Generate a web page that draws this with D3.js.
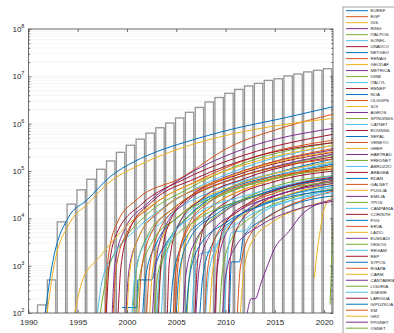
<!DOCTYPE html>
<html>
<head>
<meta charset="utf-8">
<script src="https://cdn.jsdelivr.net/npm/d3@7/dist/d3.min.js"></script>
<style>
html, body { margin: 0; padding: 0; background: #fff; }
svg { display: block; font-family: "Liberation Sans", Arial, sans-serif; }
</style>
</head>
<body>
<script>
// network names, in legend order
const networks = [
  "EUREF", "RGP", "IGS", "RING", "ITALPOS", "SONEL", "UNAVCO", "NETGEO", "RENAG",
  "GEODAF", "METRICA", "IGNE", "ITACYL", "RENEP", "NOA", "OLGGPS", "SOI", "AGROS",
  "SPINGNSS", "CATNET", "ROGNSS", "NEPAL", "VENETO", "GREF", "HARTRAD", "FREDNET",
  "ABRUZZO", "ARAGEA", "RDAN", "GALNET", "PUGLIA", "EMILIA", "TPOS", "CAMPANIA",
  "CORINTH", "FVG", "ERVA", "LAZIO", "EUSKADI", "VESOG", "REGAM", "REP", "STPOS",
  "RGAPA", "CARM", "CANTABRIA", "LIGURIA", "XGEWE", "LARIGUA", "GIPUZKOA", "KM",
  "GFZ", "PPGNET", "OSNET"
];

// cumulative curve of each network: [year, value]
const seriesPoints = [
  [[1991.7,100],[1992.4,1000],[1994,1e4],[1996,2.5e4],[1998.3,7.6e4],[2000.8,1.6e5],[2003.1,2.6e5],[2005.8,4e5],[2010.6,7.6e5],[2015.8,1.3e6],[2021,2.3e6]],
  [[1997.8,100],[1998.1,1500],[1999,8000],[2001,2.5e4],[2005.4,7e4],[2010.4,3.2e5],[2015.6,8e5],[2021,1.6e6]],
  [[1991.9,100],[1992.6,1000],[1994.2,8000],[1996,2e4],[1998.3,6e4],[2000.8,1.2e5],[2005.4,3e5],[2010.6,6e5],[2015.8,9.5e5],[2021,1.3e6]],
  [[1998.5,100],[1998.8,1200],[1999.8,6000],[2002,2e4],[2006,8e4],[2012,3e5],[2021,8e5]],
  [[1997.3,100],[1998,700],[1999.5,3000],[2002,1.2e4],[2006,4e4],[2012,1.5e5],[2021,4e5]],
  [[1997,100],[1997.5,500],[1998.5,1500],[2001,6000],[2005,2.5e4],[2012,1.2e5],[2021,3.5e5]],
  [[1997.9,100],[1998.2,1000],[1999,5000],[2001.5,2e4],[2006,7e4],[2012,2.2e5],[2021,6e5]],
  [[1999.5,130],[2001,130],[2001.1,500],[2002.5,500],[2003,1200],[2004,3000],[2006,1e4],[2010,4e4],[2015,9e4],[2021,1.8e5]],
  [[1998.6,100],[1998.9,900],[2000,5000],[2002.5,1.8e4],[2007,6e4],[2013,2e5],[2021,4.5e5]],
  [[1994.7,100],[1995.5,500],[1997.2,1500],[2000,7000],[2003.4,2.5e4],[2008,7e4],[2014,1.8e5],[2021,3.5e5]],
  [[1999.9,100],[2000.2,800],[2001.2,4000],[2003.5,1.5e4],[2008,5e4],[2014,1.4e5],[2021,2.8e5]],
  [[2000.6,100],[2000.9,700],[2002,4000],[2004.5,1.5e4],[2009,5e4],[2015,1.2e5],[2021,2.2e5]],
  [[2000.5,100],[2000.8,600],[2001.8,3000],[2004,1e4],[2009,4e4],[2015,9e4],[2021,1.6e5]],
  [[1999.1,100],[1999.4,1000],[2000.3,6000],[2002.5,2.2e4],[2007,7e4],[2013,2e5],[2021,4e5]],
  [[2001.6,100],[2001.9,600],[2003,3000],[2005.5,1.2e4],[2010,4e4],[2015,8e4],[2021,1.4e5]],
  [[2002,100],[2002.3,900],[2003.2,5000],[2005.5,2e4],[2010,7e4],[2015,1.6e5],[2021,3e5]],
  [[2002.3,100],[2002.6,800],[2003.6,4000],[2006,1.5e4],[2011,5e4],[2016,1e5],[2021,1.6e5]],
  [[2002.6,100],[2002.9,1000],[2003.8,6000],[2006,2.2e4],[2011,7e4],[2016,1.4e5],[2021,2.3e5]],
  [[2003.1,100],[2003.4,700],[2004.3,3500],[2006.5,1.2e4],[2011,4e4],[2016,8e4],[2021,1.3e5]],
  [[2003.5,100],[2003.8,900],[2004.8,5000],[2007,1.8e4],[2012,5e4],[2017,1e5],[2021,1.5e5]],
  [[2004.1,100],[2004.3,1200],[2005.2,7000],[2007.5,2.5e4],[2012,7e4],[2017,1.4e5],[2021,2e5]],
  [[2004.4,100],[2004.7,600],[2005.7,3000],[2008,1e4],[2013,3e4],[2017,5e4],[2021,7e4]],
  [[2004.7,100],[2005,900],[2006,5000],[2008.5,1.7e4],[2013,5e4],[2017,9e4],[2021,1.3e5]],
  [[2005.2,100],[2005.5,1000],[2006.5,6000],[2009,2e4],[2013,5e4],[2017,8.5e4],[2021,1.2e5]],
  [[2005.7,100],[2006,700],[2007,3500],[2009.5,1.2e4],[2014,3.5e4],[2021,7e4]],
  [[2006.1,100],[2006.4,800],[2007.4,4500],[2010,1.5e4],[2014,4e4],[2021,8e4]],
  [[2006.6,100],[2006.9,900],[2007.5,1800],[2008.5,2000],[2010,6000],[2014,2e4],[2021,4.5e4]],
  [[2006.9,100],[2007.2,1500],[2008,8000],[2010.5,2.5e4],[2015,6e4],[2021,1e5]],
  [[2007.4,100],[2007.7,600],[2008.7,3000],[2011,1e4],[2015,2.5e4],[2021,5e4]],
  [[2007.9,100],[2008.2,900],[2009.2,5000],[2011.5,1.5e4],[2016,4e4],[2021,7e4]],
  [[2008.4,100],[2008.7,800],[2009.7,4000],[2012,1.3e4],[2016,3e4],[2021,5.5e4]],
  [[2008.9,100],[2009.2,1000],[2010.2,5500],[2012.5,1.7e4],[2016,3.5e4],[2021,6e4]],
  [[2009.4,100],[2009.7,800],[2010.7,4000],[2013,1.2e4],[2017,2.8e4],[2021,4.2e4]],
  [[2009.9,100],[2010.2,1500],[2010.6,5000],[2012,5600],[2013,1e4],[2017,2.5e4],[2021,4e4]],
  [[2010.3,100],[2010.5,1500],[2011.3,7000],[2013.5,2e4],[2017,4e4],[2021,6.5e4]],
  [[2010.4,100],[2010.6,1200],[2011.4,1200],[2011.8,4000],[2014,1e4],[2017,2e4],[2021,3e4]],
  [[2011.2,100],[2011.5,900],[2012.5,4500],[2015,1.3e4],[2018,2.5e4],[2021,3.8e4]],
  [[2011.5,100],[2011.8,600],[2012.6,3000],[2015,9000],[2018,1.7e4],[2021,2.5e4]],
  [[2012.2,100],[2012.6,200],[2013,200],[2013.6,430],[2014.4,1200],[2014.9,2150],[2016.4,5200],[2017.9,1.3e4],[2021,2.5e4]],
  [[2001,100],[2001.3,600],[2002.5,3000],[2005,1e4],[2010,3.5e4],[2015,7e4],[2021,1.1e5]],
  [[2003,100],[2003.3,700],[2004.3,3500],[2007,1.2e4],[2012,3e4],[2017,5.5e4],[2021,8e4]],
  [[2003.2,100],[2003.5,1500],[2004.4,9000],[2006.5,3e4],[2011,8e4],[2016,1.6e5],[2021,2.5e5]],
  [[2005,100],[2005.3,700],[2006.3,3500],[2009,1.2e4],[2014,3.5e4],[2021,7e4]],
  [[2004.9,100],[2005.2,1200],[2006.2,7000],[2008.5,2.3e4],[2013,6e4],[2021,1.1e5]],
  [[2019,550],[2019.3,2000],[2019.6,5500],[2019.9,1.3e4],[2020.3,2.2e4],[2021,3e4]],
  [[2007,100],[2007.3,800],[2008.3,4000],[2011,1.3e4],[2015,3e4],[2021,5.5e4]],
  [[2002.8,100],[2003.1,600],[2004.2,2500],[2007,9000],[2012,2.5e4],[2017,4.5e4],[2021,6e4]],
  [[2008,100],[2008.3,700],[2009.3,3000],[2012,1e4],[2016,2.2e4],[2021,3.5e4]],
  [[2009,100],[2009.2,1500],[2010,8000],[2012.5,2.2e4],[2016,4.5e4],[2021,7.5e4]],
  [[2006,100],[2006.3,500],[2007.3,2500],[2010,8000],[2014,2e4],[2021,4e4]],
  [[2001.2,100],[2001.5,900],[2002.5,5000],[2005,1.8e4],[2010,6e4],[2015,1.2e5],[2021,1.8e5]],
  [[2000,100],[2000.3,800],[2001.3,4500],[2004,1.8e4],[2009,6e4],[2015,1.5e5],[2021,2.6e5]],
  [[2009.7,100],[2010,600],[2011,2500],[2013.5,7000],[2017,1.5e4],[2021,2.3e4]],
  [[2020.6,150],[2020.75,1000],[2020.9,8000]]
];

// yearly total (bars)
const barYears = [1991, 1992, 1993, 1994, 1995, 1996, 1997, 1998, 1999, 2000,
  2001, 2002, 2003, 2004, 2005, 2006, 2007, 2008, 2009, 2010,
  2011, 2012, 2013, 2014, 2015, 2016, 2017, 2018, 2019, 2020];
const barValues = [148, 500, 8400, 2.0e4, 4.0e4, 6.7e4, 1.09e5, 1.63e5, 2.48e5, 3.5e5,
  4.7e5, 6.3e5, 8.2e5, 1.03e6, 1.32e6, 1.74e6, 2.2e6, 2.87e6, 3.57e6, 4.39e6,
  5.3e6, 6.25e6, 7.1e6, 8.2e6, 8.9e6, 1.02e7, 1.12e7, 1.24e7, 1.34e7, 1.45e7];

const xTicks = [1990, 1995, 2000, 2005, 2010, 2015, 2020];
const yExponents = [2, 3, 4, 5, 6, 7, 8];

const colors = ["#0072BD", "#D95319", "#EDB120", "#7E2F8E", "#77AC30", "#4DBEEE", "#A2142F"];

const W = 394, H = 333;
const plot = { left: 28.4, right: 333, top: 29, bottom: 313 };

const svg = d3.select("body").append("svg")
  .attr("width", W)
  .attr("height", H);

const x = d3.scaleLinear().domain([1990, 2020.9]).range([plot.left, plot.right]);
const y = d3.scaleLog().domain([1e2, 1e8]).range([plot.bottom, plot.top]);

const majors = yExponents.map(e => Math.pow(10, e));
const minors = [];
yExponents.slice(0, -1).forEach(e => {
  for (let k = 2; k <= 9; k++) minors.push(k * Math.pow(10, e));
});

svg.append("defs").append("clipPath").attr("id", "clip")
  .append("rect")
    .attr("x", plot.left).attr("y", plot.top)
    .attr("width", plot.right - plot.left).attr("height", plot.bottom - plot.top);

// grid
svg.append("g")
  .selectAll("line")
  .data(minors.concat(majors))
  .enter().append("line")
    .attr("x1", plot.left).attr("x2", plot.right)
    .attr("y1", d => y(d)).attr("y2", d => y(d))
    .attr("stroke", "#f0f0f0")
    .attr("stroke-width", 0.7);

const body = svg.append("g").attr("clip-path", "url(#clip)");

// bars
body.selectAll("rect.bar")
  .data(barYears)
  .enter().append("rect")
    .attr("class", "bar")
    .attr("x", d => x(d - 0.075))
    .attr("width", x(1990.85) - x(1990))
    .attr("y", (d, i) => y(barValues[i]))
    .attr("height", (d, i) => plot.bottom + 2 - y(barValues[i]))
    .attr("fill", "none")
    .attr("stroke", "#969696")
    .attr("stroke-width", 1.3);

// cumulative lines
const line = d3.line()
  .x(d => x(d[0]))
  .y(d => y(d[1]))
  .curve(d3.curveMonotoneX);

body.selectAll("path.net")
  .data(seriesPoints)
  .enter().append("path")
    .attr("class", "net")
    .attr("d", line)
    .attr("fill", "none")
    .attr("stroke", (d, i) => colors[i % colors.length])
    .attr("stroke-width", 1);

// axes
const axisColor = "#4d4d4d";

const gLeft = svg.append("g")
  .attr("transform", `translate(${plot.left},0)`)
  .call(d3.axisLeft(y).tickValues(majors).tickSize(-3).tickPadding(4).tickFormat(() => ""));
gLeft.selectAll("text").each(function(d) {
  const t = d3.select(this);
  t.append("tspan").text("10");
  t.append("tspan").attr("dy", -4).attr("font-size", 5.5).text(Math.round(Math.log10(d)));
});

svg.append("g")
  .attr("transform", `translate(${plot.left},0)`)
  .call(d3.axisLeft(y).tickValues(minors).tickSize(-1.8).tickFormat(() => ""));

svg.append("g")
  .attr("transform", `translate(${plot.right},0)`)
  .call(d3.axisRight(y).tickValues(majors).tickSize(-3).tickFormat(() => ""));
svg.append("g")
  .attr("transform", `translate(${plot.right},0)`)
  .call(d3.axisRight(y).tickValues(minors).tickSize(-1.8).tickFormat(() => ""));

svg.append("g")
  .attr("transform", `translate(0,${plot.bottom})`)
  .call(d3.axisBottom(x).tickValues(xTicks).tickSize(-3).tickPadding(6).tickFormat(d3.format("d")));

svg.append("g")
  .attr("transform", `translate(0,${plot.top})`)
  .call(d3.axisTop(x).tickValues(xTicks).tickSize(-3).tickFormat(() => ""));

svg.selectAll(".domain").remove();
svg.selectAll(".tick line").attr("stroke", axisColor).attr("stroke-width", 0.8);
svg.selectAll(".tick text")
  .attr("fill", "#262626")
  .attr("font-size", 8)
  .attr("font-family", "'Liberation Sans', Arial, sans-serif");

// box
svg.append("rect")
  .attr("x", plot.left).attr("y", plot.top)
  .attr("width", plot.right - plot.left).attr("height", plot.bottom - plot.top)
  .attr("fill", "none")
  .attr("stroke", axisColor)
  .attr("stroke-width", 0.8);

// legend
const lg = svg.append("g");
lg.append("rect")
  .attr("x", 343).attr("y", 7)
  .attr("width", 60).attr("height", 340)
  .attr("fill", "#fff")
  .attr("stroke", "#8c8c8c")
  .attr("stroke-width", 0.8);

const item = lg.selectAll("g.item")
  .data(networks)
  .enter().append("g")
    .attr("class", "item")
    .attr("transform", (d, i) => `translate(0,${10.7 + i * 5.99})`);
item.append("line")
  .attr("x1", 346).attr("x2", 368)
  .attr("stroke", (d, i) => colors[i % colors.length])
  .attr("stroke-width", 1);
item.append("text")
  .attr("x", 370.5)
  .attr("dy", "0.35em")
  .attr("font-size", 4.4)
  .attr("fill", "#262626")
  .text(d => d);
</script>
</body>
</html>
